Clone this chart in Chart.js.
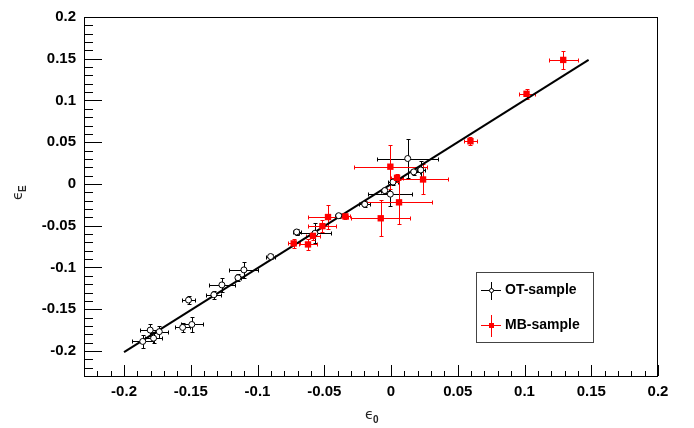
<!DOCTYPE html>
<html>
<head>
<meta charset="utf-8">
<script src="https://cdn.jsdelivr.net/npm/chart.js@4.4.1/dist/chart.umd.min.js"></script>
<style>
  html, body { margin: 0; padding: 0; background: #fff; }
</style>
</head>
<body>
<canvas id="chart" width="694" height="428"></canvas>
<script>
// OT-sample (open black circles)
const otX    = [-0.186, -0.1804, -0.1779, -0.1736, -0.1517, -0.1561, -0.1492, -0.1327, -0.1267, -0.1147, -0.1102, -0.0902, -0.0707, -0.057, -0.0392, -0.0197, -0.0047, -0.0005, 0.0015, 0.0125, 0.017, 0.0223]
const otY    = [-0.1886, -0.175, -0.1847, -0.1769, -0.139, -0.1718, -0.1683, -0.1327, -0.1209, -0.1123, -0.1029, -0.0869, -0.0575, -0.059, -0.038, -0.0243, -0.0079, -0.0122, 0.0023, 0.0305, 0.0145, 0.0168]
const otXErr = [0.0078, 0.008, 0.0064, 0.0062, 0.0052, 0.0054, 0.0085, 0.0056, 0.0097, 0.0025, 0.0109, 0.0034, 0.003, 0.012, 0.003, 0.004, 0.003, 0.0165, 0.004, 0.0229, 0.0045, 0.003]
const otYErr = [0.008, 0.007, 0.006, 0.007, 0.0053, 0.005, 0.009, 0.005, 0.008, 0.004, 0.010, 0.0035, 0.0035, 0.012, 0.003, 0.0035, 0.003, 0.014, 0.003, 0.0235, 0.0035, 0.0105]

// MB-sample (filled red squares)
const mbX    = [-0.0729, -0.0622, -0.0585, -0.0514, -0.0472, -0.0342, -0.0077, 0.006, 0.0045, 0.024, -0.0005, 0.0595, 0.1015, 0.129]
const mbY    = [-0.0712, -0.0724, -0.0622, -0.0505, -0.0396, -0.0388, -0.0411, -0.022, 0.0074, 0.0054, 0.0207, 0.0512, 0.108, 0.1486]
const mbXErr = [0.0046, 0.0067, 0.005, 0.0105, 0.015, 0.0034, 0.022, 0.025, 0.0047, 0.0187, 0.0276, 0.0046, 0.006, 0.011]
const mbYErr = [0.0057, 0.0067, 0.005, 0.007, 0.0147, 0.003, 0.0215, 0.0264, 0.0045, 0.018, 0.0264, 0.005, 0.006, 0.011]

// fitted line
const fitX = [-0.2, 0.148]
const fitY = [-0.2015, 0.1486]

const xTickVals = [-0.2, -0.15, -0.1, -0.05, 0, 0.05, 0.1, 0.15, 0.2]
const xTickLabels = ['-0.2', '-0.15', '-0.1', '-0.05', '0', '0.05', '0.1', '0.15', '0.2']
const yTickVals = [-0.2, -0.15, -0.1, -0.05, 0, 0.05, 0.1, 0.15, 0.2]
const yTickLabels = ['-0.2', '-0.15', '-0.1', '-0.05', '0', '0.05', '0.1', '0.15', '0.2']

const legendLabels = ['OT-sample', 'MB-sample']

const RED = '#ff0000'
const toPts = (xs, ys) => xs.map((x, i) => ({ x: x, y: ys[i] }))

function drawErrors(ctx, xs, ys, xe, ye, sx, sy, color) {
  ctx.strokeStyle = color
  ctx.lineWidth = 1
  const cap = 2
  for (let i = 0; i < xs.length; i++) {
    const px = Math.round(sx.getPixelForValue(xs[i])) + 0.5
    const py = Math.round(sy.getPixelForValue(ys[i])) + 0.5
    const x1 = Math.round(sx.getPixelForValue(xs[i] - xe[i])) + 0.5
    const x2 = Math.round(sx.getPixelForValue(xs[i] + xe[i])) + 0.5
    const y1 = Math.round(sy.getPixelForValue(ys[i] - ye[i])) + 0.5
    const y2 = Math.round(sy.getPixelForValue(ys[i] + ye[i])) + 0.5
    ctx.beginPath()
    ctx.moveTo(x1, py); ctx.lineTo(x2, py)
    ctx.moveTo(px, y1); ctx.lineTo(px, y2)
    ctx.moveTo(x1, py - cap); ctx.lineTo(x1, py + cap)
    ctx.moveTo(x2, py - cap); ctx.lineTo(x2, py + cap)
    ctx.moveTo(px - cap, y1); ctx.lineTo(px + cap, y1)
    ctx.moveTo(px - cap, y2); ctx.lineTo(px + cap, y2)
    ctx.stroke()
  }
}

const rootStyle = {
  id: 'rootStyle',
  beforeDatasetsDraw(chart) {
    const ctx = chart.ctx
    const sx = chart.scales.x, sy = chart.scales.y
    ctx.save()
    drawErrors(ctx, otX, otY, otXErr, otYErr, sx, sy, '#000')
    drawErrors(ctx, mbX, mbY, mbXErr, mbYErr, sx, sy, RED)
    ctx.restore()
  },
  afterDatasetsDraw(chart) {
    const ctx = chart.ctx
    const a = chart.chartArea
    const sx = chart.scales.x, sy = chart.scales.y
    ctx.save()
    // frame
    ctx.strokeStyle = '#000'
    ctx.lineWidth = 1
    ctx.strokeRect(a.left + 0.5, a.top + 0.5, a.right - a.left - 1, a.bottom - a.top)

    // tick marks, pointing inward
    ctx.beginPath()
    for (let k = -23; k <= 20; k++) {
      const v = k / 100
      const major = k % 5 === 0
      const py = Math.round(sy.getPixelForValue(v)) + 0.5
      ctx.moveTo(a.left, py); ctx.lineTo(a.left + (major ? 18 : 9), py)
      const px = Math.round(sx.getPixelForValue(v)) + 0.5
      ctx.moveTo(px, a.bottom); ctx.lineTo(px, a.bottom - (major ? 11 : 5))
    }
    ctx.stroke()

    // axis titles
    ctx.fillStyle = '#222'
    ctx.textBaseline = 'alphabetic'
    ctx.textAlign = 'left'
    ctx.font = '14px "DejaVu Sans"'
    ctx.fillText('ϵ', 365, 419)
    ctx.font = 'bold 10px "Liberation Sans"'
    ctx.fillText('0', 373, 423)

    ctx.save()
    ctx.translate(22, 200)
    ctx.rotate(-Math.PI / 2)
    ctx.font = '14px "DejaVu Sans"'
    ctx.fillText('ϵ', 0, 0)
    ctx.font = 'bold 10px "Liberation Sans"'
    ctx.fillText('E', 8, 4)
    ctx.restore()

    // legend
    const lx = 476, ly = 272, lw = 117, lh = 70
    ctx.fillStyle = '#fff'
    ctx.fillRect(lx, ly, lw, lh)
    ctx.strokeStyle = '#444'
    ctx.strokeRect(lx + 0.5, ly + 0.5, lw, lh)
    const rows = [290, 325]
    const colors = ['#000', RED]
    rows.forEach((ry, i) => {
      ctx.strokeStyle = colors[i]
      ctx.lineWidth = 1
      ctx.beginPath()
      ctx.moveTo(481, ry + 0.5); ctx.lineTo(501, ry + 0.5)
      ctx.moveTo(491.5, ry - (i ? 10 : 8)); ctx.lineTo(491.5, ry + (i ? 12 : 10))
      ctx.stroke()
      if (i === 0) {
        ctx.fillStyle = '#fff'
        ctx.beginPath()
        ctx.arc(491.5, ry + 0.5, 2, 0, Math.PI * 2)
        ctx.fill(); ctx.stroke()
      } else {
        ctx.fillStyle = RED
        ctx.fillRect(489, ry - 2, 5, 5)
      }
      ctx.fillStyle = '#000'
      ctx.font = 'bold 14px "Liberation Sans"'
      ctx.textBaseline = 'middle'
      ctx.fillText(legendLabels[i], 505, ry)
    })
    ctx.restore()
  }
}

const tickFont = { family: '"Liberation Sans", Arial, sans-serif', size: 15, weight: 'bold' }

new Chart(document.getElementById('chart'), {
  type: 'scatter',
  data: {
    datasets: [
      {
        label: legendLabels[1],
        data: toPts(mbX, mbY),
        pointStyle: 'rect',
        pointRadius: 4.5,
        backgroundColor: RED,
        borderColor: RED,
        borderWidth: 0
      },
      {
        label: legendLabels[0],
        data: toPts(otX, otY),
        pointStyle: 'circle',
        pointRadius: 3,
        backgroundColor: '#fff',
        borderColor: '#000',
        borderWidth: 1
      },
      {
        label: 'fit',
        type: 'line',
        data: toPts(fitX, fitY),
        borderColor: '#000',
        borderWidth: 2,
        pointRadius: 0,
        fill: false
      }
    ]
  },
  options: {
    responsive: false,
    animation: false,
    events: [],
    layout: { padding: { top: 10, right: 36, left: 0, bottom: 0 } },
    plugins: {
      legend: { display: false },
      tooltip: { enabled: false }
    },
    scales: {
      x: {
        type: 'linear',
        min: -0.23,
        max: 0.2,
        grid: { display: false, drawTicks: false },
        border: { display: false },
        afterBuildTicks: (s) => { s.ticks = xTickVals.map(v => ({ value: v })) },
        afterFit: (s) => { s.height = 52 },
        ticks: {
          padding: 7,
          color: '#000',
          font: tickFont,
          maxRotation: 0,
          autoSkip: false,
          callback: (v, i) => xTickLabels[i]
        }
      },
      y: {
        type: 'linear',
        min: -0.23,
        max: 0.2,
        grid: { display: false, drawTicks: false },
        border: { display: false },
        afterBuildTicks: (s) => { s.ticks = yTickVals.map(v => ({ value: v })) },
        afterFit: (s) => { s.width = 84 },
        ticks: {
          padding: 8,
          color: '#000',
          font: tickFont,
          autoSkip: false,
          callback: (v, i) => yTickLabels[i]
        }
      }
    }
  },
  plugins: [rootStyle]
})
</script>
</body>
</html>
